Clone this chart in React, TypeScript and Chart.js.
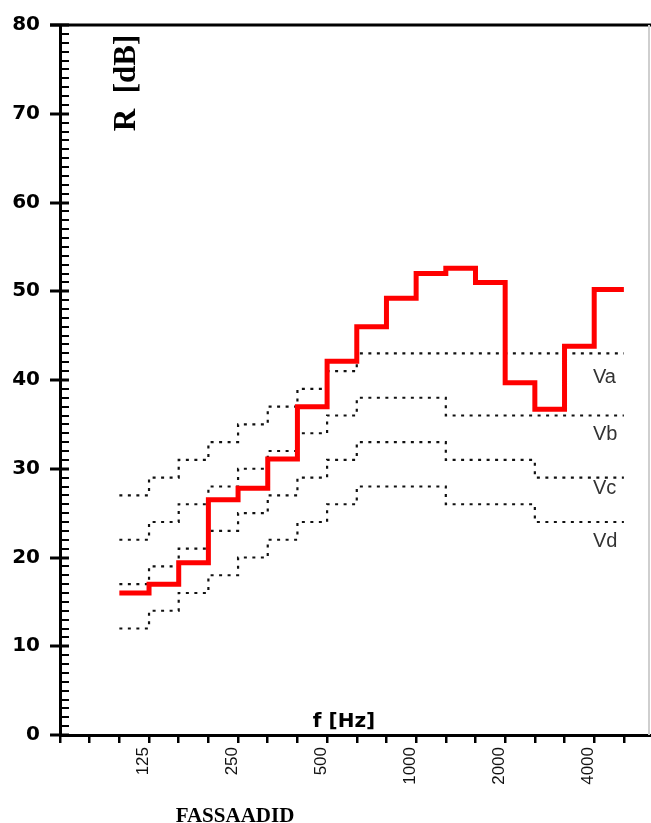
import React, { useEffect, useRef } from 'react';
import { Chart, registerables } from 'chart.js';

Chart.register(...registerables);

// 1/3-octave tick positions along the frequency axis
const TICK_FREQS = ['63', '80', '100', '125', '160', '200', '250', '315', '400', '500', '630', '800', '1000', '1250', '1600', '2000', '2500', '3150', '4000', '5000'];
const LABELED_FREQS = ['125', '250', '500', '1000', '2000', '4000'];
// measured bands (each value spans from its band tick to the next tick)
const BANDS = ['100', '125', '160', '200', '250', '315', '400', '500', '630', '800', '1000', '1250', '1600', '2000', '2500', '3150', '4000'];
const R_VALUES = [16, 17, 19.4, 26.5, 27.8, 31.1, 37, 42.1, 46, 49.2, 52, 52.6, 51, 39.7, 36.7, 43.8, 50.2];
const VA = [27, 29, 31, 33, 35, 37, 39, 41, 43, 43, 43, 43, 43, 43, 43, 43, 43];
const VB = [22, 24, 26, 28, 30, 32, 34, 36, 38, 38, 38, 36, 36, 36, 36, 36, 36];
const VC = [17, 19, 21, 23, 25, 27, 29, 31, 33, 33, 33, 31, 31, 31, 29, 29, 29];
const VD = [12, 14, 16, 18, 20, 22, 24, 26, 28, 28, 28, 26, 26, 26, 24, 24, 24];
const REF_NAMES = ['Va', 'Vb', 'Vc', 'Vd'];
const REF_SERIES = [VA, VB, VC, VD];
const Y_MIN = 0;
const Y_MAX = 80;
const Y_TITLE = 'R  [dB]';
const X_TITLE = 'f [Hz]';
const CAPTION = 'FASSAADID';

function stepPoints(values: number[]) {
  const pts = values.map((v, i) => ({ x: TICK_FREQS.indexOf(BANDS[i]), y: v }));
  const endIdx = TICK_FREQS.indexOf(BANDS[BANDS.length - 1]) + 1;
  pts.push({ x: endIdx, y: values[values.length - 1] });
  return pts;
}

const LABEL_DY = [30, 24.5, 16.5, 25];

const decor = {
  id: 'decor',
  afterDraw(chart: any) {
    const { ctx, chartArea, scales } = chart;
    const y = scales.y;
    const x = scales.x;
    ctx.save();
    ctx.strokeStyle = '#000';
    // y ticks: minor inward, major crossing
    y.ticks.forEach((t: any) => {
      const py = Math.round(y.getPixelForValue(t.value));
      const major = t.value % 10 === 0;
      ctx.lineWidth = major ? 3 : 2;
      ctx.beginPath();
      ctx.moveTo(chartArea.left - (major ? 10 : 0), py);
      ctx.lineTo(chartArea.left + 9, py);
      ctx.stroke();
    });
    // top border
    ctx.lineWidth = 3;
    ctx.beginPath();
    ctx.moveTo(chartArea.left - 10, chartArea.top);
    ctx.lineTo(chart.width, chartArea.top);
    ctx.stroke();
    // right light border
    ctx.strokeStyle = '#cfcfcf';
    ctx.lineWidth = 2;
    ctx.beginPath();
    ctx.moveTo(chartArea.right - 1, chartArea.top);
    ctx.lineTo(chartArea.right - 1, chartArea.bottom);
    ctx.stroke();

    // reference curve labels
    const endIdx = TICK_FREQS.indexOf(BANDS[BANDS.length - 1]) + 1;
    const lx = x.getPixelForValue(endIdx) - 31;
    ctx.fillStyle = '#333';
    ctx.font = '20px "Liberation Sans", Arial, sans-serif';
    ctx.textAlign = 'left';
    ctx.textBaseline = 'alphabetic';
    REF_SERIES.forEach((s, i) => {
      const py = y.getPixelForValue(s[s.length - 1]) + LABEL_DY[i];
      ctx.fillText(REF_NAMES[i], lx, py);
    });

    // axis titles
    ctx.fillStyle = '#000';
    ctx.font = 'bold 31px "Liberation Serif", "Times New Roman", serif';
    ctx.save();
    ctx.translate(chartArea.left + 75, chartArea.top + 58);
    ctx.rotate(-Math.PI / 2);
    ctx.textAlign = 'center';
    ctx.fillText(Y_TITLE, 0, 0);
    ctx.restore();

    ctx.font = 'bold 20px "DejaVu Sans", sans-serif';
    ctx.textAlign = 'center';
    ctx.fillText(X_TITLE, 344, chartArea.bottom - 8);

    ctx.font = 'bold 21px "Liberation Serif", "Times New Roman", serif';
    ctx.fillText(CAPTION, 235, chart.height - 1);
    ctx.restore();
  },
};

export default function App() {
  const ref = useRef<HTMLCanvasElement | null>(null);
  useEffect(() => {
    if (!ref.current) return;
    const datasets: any[] = [
      {
        label: 'R',
        data: stepPoints(R_VALUES),
        stepped: 'before',
        borderColor: '#ff0000',
        borderWidth: 5,
        borderJoinStyle: 'miter',
        borderCapStyle: 'butt',
        pointRadius: 0,
        fill: false,
      },
      ...REF_SERIES.map((s, i) => ({
        label: REF_NAMES[i],
        data: stepPoints(s),
        stepped: 'before',
        borderColor: '#111',
        borderWidth: 2.2,
        borderDash: [3, 5.5],
        pointRadius: 0,
        fill: false,
      })),
    ];
    const chart = new Chart(ref.current, {
      type: 'line',
      data: { datasets },
      options: {
        animation: false,
        responsive: false,
        layout: { padding: { top: 25, right: 1, left: 0, bottom: 0 } },
        plugins: { legend: { display: false }, tooltip: { enabled: false } },
        scales: {
          x: {
            type: 'linear',
            min: 0,
            max: 19.88,
            afterBuildTicks: (s: any) => {
              s.ticks = TICK_FREQS.map((_, i) => ({ value: i }));
            },
            afterFit: (s: any) => {
              s.height = 88;
              s.paddingLeft = 0;
              s.paddingRight = 0;
            },
            grid: { display: true, drawOnChartArea: false, drawTicks: true, tickLength: 8, lineWidth: 2.5, color: '#000' },
            border: { display: true, width: 3, color: '#000' },
            ticks: {
              autoSkip: false,
              minRotation: 90,
              maxRotation: 90,
              labelOffset: -6,
              padding: 4,
              color: '#111',
              font: { family: '"Liberation Sans", Arial, sans-serif', size: 17 },
              callback: (v: any) => {
                const f = TICK_FREQS[v as number];
                return LABELED_FREQS.includes(f) ? f : '';
              },
            },
          },
          y: {
            min: Y_MIN,
            max: Y_MAX,
            afterFit: (s: any) => {
              s.width = 60;
              s.paddingTop = 0;
              s.paddingBottom = 0;
            },
            grid: { display: false, drawTicks: false },
            border: { display: true, width: 3, color: '#000' },
            ticks: {
              stepSize: 1,
              autoSkip: false,
              padding: 20,
              color: '#000',
              font: { family: '"DejaVu Sans", sans-serif', size: 20, weight: 'bold' },
              callback: (v: any) => ((v as number) % 10 === 0 ? String(v) : ''),
            },
          },
        },
      } as any,
      plugins: [decor],
    });
    return () => chart.destroy();
  }, []);
  return (
    <div style={{ position: 'absolute', left: 0, top: 0, width: 651, height: 823, background: '#fff' }}>
      <canvas ref={ref} width={651} height={823} style={{ display: 'block' }} />
    </div>
  );
}
